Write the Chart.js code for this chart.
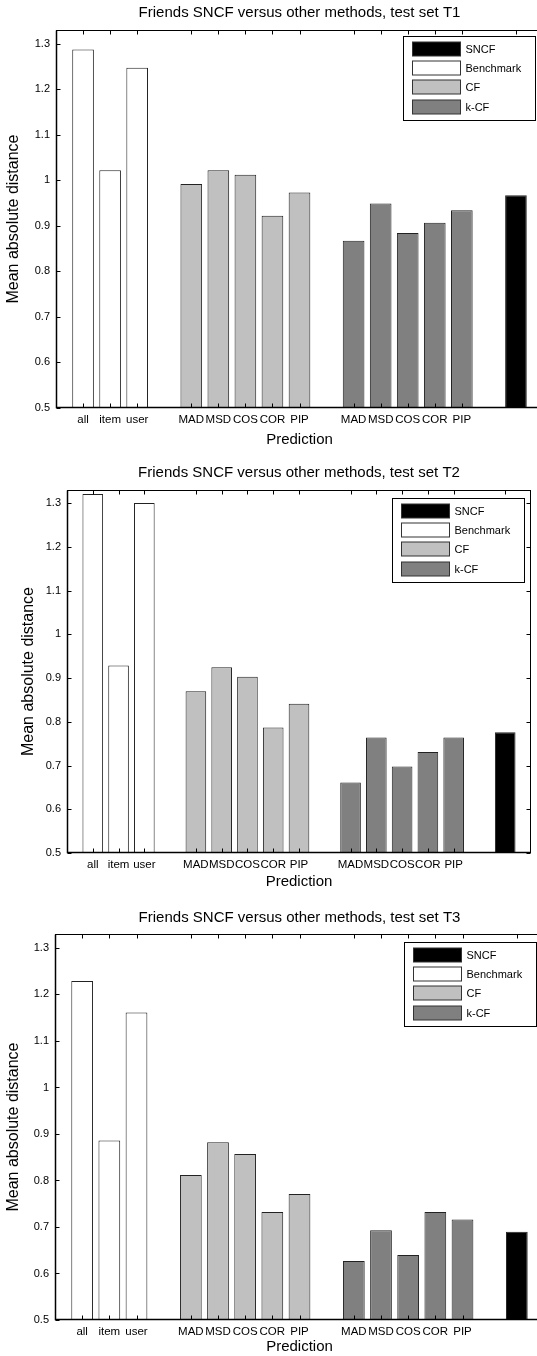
<!DOCTYPE html>
<html>
<head>
<meta charset="utf-8">
<script src="https://cdn.jsdelivr.net/npm/chart.js@4/dist/chart.umd.min.js"></script>
<style>
  html, body { margin: 0; padding: 0; background: #fff; }
  body { width: 537px; height: 1356px; overflow: hidden; position: relative; }
  .panel { position: absolute; left: 0; width: 560px; height: 452px; }
</style>
</head>
<body>
<div class="panel" style="top:0"><canvas id="c1" width="560" height="452"></canvas></div>
<div class="panel" style="top:452px"><canvas id="c2" width="560" height="452"></canvas></div>
<div class="panel" style="top:904px"><canvas id="c3" width="560" height="452"></canvas></div>
<script>
// data
const benchLabels = ['all', 'item', 'user'];
const methodLabels = ['MAD', 'MSD', 'COS', 'COR', 'PIP'];
const seriesNames = ['SNCF', 'Benchmark', 'CF', 'k-CF'];
const seriesColors = ['#000000', '#ffffff', '#c0c0c0', '#808080'];
const yTicks = [0.5, 0.6, 0.7, 0.8, 0.9, 1.0, 1.1, 1.2, 1.3];

const titleT1 = 'Friends SNCF versus other methods, test set T1';
const benchT1 = [1.287, 1.022, 1.247];
const cfT1 = [0.992, 1.022, 1.012, 0.922, 0.973];
const kcfT1 = [0.867, 0.949, 0.884, 0.907, 0.934];
const sncfT1 = [0.967];

const titleT2 = 'Friends SNCF versus other methods, test set T2';
const benchT2 = [1.321, 0.929, 1.300];
const cfT2 = [0.870, 0.925, 0.903, 0.787, 0.841];
const kcfT2 = [0.661, 0.764, 0.698, 0.731, 0.764];
const sncfT2 = [0.776];

const titleT3 = 'Friends SNCF versus other methods, test set T3';
const benchT3 = [1.229, 0.886, 1.161];
const cfT3 = [0.812, 0.882, 0.857, 0.732, 0.771];
const kcfT3 = [0.627, 0.693, 0.640, 0.732, 0.716];
const sncfT3 = [0.690];

const FONT = '"Liberation Sans", Arial, Helvetica, sans-serif';

// groups laid out left to right with one empty slot between them
const groupLabels = [benchLabels, methodLabels, methodLabels, ['']];
const groupStart = [];
let slot = 1;
groupLabels.forEach(g => { groupStart.push(slot); slot += g.length + 1; });
const tickPos = [];
const tickText = [];
groupLabels.forEach((g, gi) => g.forEach((l, i) => { tickPos.push(groupStart[gi] + i); tickText.push(l); }));

// box, ticks, title and legend in the matlab look
const matlabAxes = {
  id: 'matlabAxes',
  afterDraw(chart, args, o) {
    const {ctx, chartArea: a, scales: {x, y}} = chart;
    ctx.save();
    ctx.strokeStyle = '#000';
    ctx.lineWidth = 1;
    const L = Math.round(a.left) + 0.5, R = Math.round(a.right) - 0.5;
    const T = Math.round(a.top) + 0.5, B = Math.round(a.bottom) - 0.5;
    ctx.beginPath();
    x.ticks.forEach(t => {
      const px = Math.round(x.getPixelForValue(t.value)) + 0.5;
      ctx.moveTo(px, B); ctx.lineTo(px, B - 4);
      ctx.moveTo(px, T); ctx.lineTo(px, T + 4);
    });
    y.ticks.forEach(t => {
      const py = Math.round(y.getPixelForValue(t.value)) + 0.5;
      ctx.moveTo(L, py); ctx.lineTo(L + 4, py);
      ctx.moveTo(R, py); ctx.lineTo(R - 4, py);
    });
    ctx.stroke();
    ctx.strokeRect(L, T, R - L, B - T);
    // left and bottom axis lines a bit heavier
    ctx.beginPath();
    ctx.moveTo(L, T); ctx.lineTo(L, B); ctx.lineTo(R, B);
    ctx.lineWidth = 1.5;
    ctx.stroke();
    ctx.lineWidth = 1;

    ctx.fillStyle = '#000';
    ctx.font = '15px ' + FONT;
    ctx.textAlign = 'center';
    ctx.textBaseline = 'middle';
    ctx.fillText(o.title, (a.left + a.right) / 2, o.titleY);

    // legend
    const lw = 132, lh = 84;
    const lx = Math.round(a.right - o.legendRight - lw) + 0.5;
    const ly = Math.round(a.top + o.legendTop) + 0.5;
    ctx.fillStyle = '#fff';
    ctx.fillRect(lx, ly, lw, lh);
    ctx.strokeRect(lx, ly, lw, lh);
    ctx.font = '11px ' + FONT;
    ctx.textAlign = 'left';
    chart.data.datasets.forEach((ds, i) => {
      const sy = Math.round(ly + 5 + i * 19.4);
      ctx.fillStyle = ds.backgroundColor;
      ctx.fillRect(lx + 9, sy, 48, 14);
      ctx.strokeStyle = '#333';
      ctx.strokeRect(lx + 9, sy, 48, 14);
      ctx.fillStyle = '#000';
      ctx.fillText(ds.label, lx + 62, sy + 7.5);
    });
    ctx.restore();
  }
};

function makeChart(id, title, bench, cf, kcf, sncf, box) {
  const values = [sncf, bench, cf, kcf];
  const starts = [groupStart[3], groupStart[0], groupStart[1], groupStart[2]];
  const datasets = seriesNames.map((name, i) => ({
    label: name,
    data: values[i].map((v, j) => ({x: starts[i] + j, y: v})),
    backgroundColor: seriesColors[i],
    borderColor: '#222',
    borderWidth: 1,
    borderSkipped: 'bottom',
    grouped: false,
    barPercentage: 0.8,
    categoryPercentage: 1
  }));
  return new Chart(document.getElementById(id), {
    type: 'bar',
    data: {datasets},
    plugins: [matlabAxes],
    options: {
      responsive: false,
      animation: false,
      layout: {padding: {left: 0, top: box.top, right: 560 - box.right, bottom: 0}},
      plugins: {
        legend: {display: false},
        tooltip: {enabled: false},
        matlabAxes: {title, titleY: box.titleY, legendRight: box.legendRight, legendTop: box.legendTop}
      },
      scales: {
        x: {
          type: 'linear', min: 0, max: 18, offset: false,
          grid: {display: false, drawTicks: false}, border: {display: false},
          afterBuildTicks: s => { s.ticks = tickPos.map(v => ({value: v})); },
          afterFit: s => { s.height = 452 - box.bottom; },
          ticks: {
            autoSkip: false, maxRotation: 0, minRotation: 0, padding: 5, color: '#000',
            font: {family: FONT, size: 11.5},
            callback: v => tickText[tickPos.indexOf(v)]
          },
          title: {display: true, text: 'Prediction', color: '#000', font: {family: FONT, size: 15}, padding: {top: 0, bottom: box.xTitlePad}}
        },
        y: {
          min: 0.5, max: box.yMax,
          grid: {display: false, drawTicks: false}, border: {display: false},
          afterBuildTicks: s => { s.ticks = yTicks.map(v => ({value: v})); },
          afterFit: s => { s.width = box.left; },
          ticks: {
            padding: 6, color: '#000', font: {family: FONT, size: 11},
            callback: v => String(Math.round(v * 10) / 10)
          },
          title: {display: true, text: 'Mean absolute distance', color: '#000', font: {family: FONT, size: 16}, padding: {top: box.yTitlePad, bottom: 0}}
        }
      }
    }
  });
}

makeChart('c1', titleT1, benchT1, cfT1, kcfT1, sncfT1,
  {left: 56, top: 30, right: 543, bottom: 408, yMax: 1.33, titleY: 13, legendRight: 8, legendTop: 6, xTitlePad: 3, yTitlePad: 4});
makeChart('c2', titleT2, benchT2, cfT2, kcfT2, sncfT2,
  {left: 67, top: 38, right: 531, bottom: 401, yMax: 1.33, titleY: 21, legendRight: 7, legendTop: 8, xTitlePad: 13, yTitlePad: 19});
makeChart('c3', titleT3, benchT3, cfT3, kcfT3, sncfT3,
  {left: 55, top: 30, right: 544, bottom: 416, yMax: 1.33, titleY: 14, legendRight: 8, legendTop: 8, xTitlePad: 0, yTitlePad: 4});
</script>
</body>
</html>
